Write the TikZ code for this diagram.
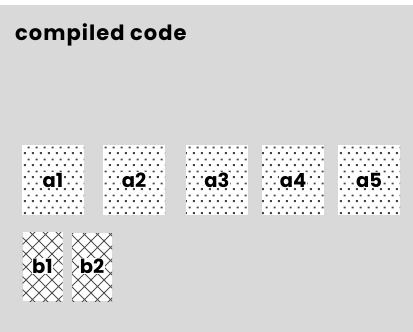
\documentclass[tikz,border=0pt]{standalone}
\usepackage{fontspec}
\setmainfont{Poppins}
\newfontfamily\titlefont[LetterSpace=5]{Poppins}
\usetikzlibrary{patterns}
\pgfdeclarepatternformonly{pdots}{\pgfpointorigin}{\pgfpoint{7.7pt}{11.6pt}}{\pgfpoint{7.7pt}{11.6pt}}{%
  \pgfpathrectangle{\pgfpoint{1pt}{2pt}}{\pgfpoint{1.9pt}{1.9pt}}%
  \pgfpathrectangle{\pgfpoint{4.85pt}{7.8pt}}{\pgfpoint{1.9pt}{1.9pt}}%
  \pgfusepath{fill}}
\pgfdeclarepatternformonly{pcross}{\pgfpoint{-1pt}{-1pt}}{\pgfpoint{14pt}{14pt}}{\pgfpoint{13pt}{13pt}}{%
  \pgfsetlinewidth{0.75pt}%
  \pgfpathmoveto{\pgfpoint{-1pt}{-1pt}}\pgfpathlineto{\pgfpoint{14pt}{14pt}}%
  \pgfpathmoveto{\pgfpoint{-1pt}{14pt}}\pgfpathlineto{\pgfpoint{14pt}{-1pt}}%
  \pgfusepath{stroke}}
\definecolor{bgray}{HTML}{D9D9D9}
\definecolor{dotc}{HTML}{454545}
\definecolor{crossc}{HTML}{505050}
\tikzset{
  abox/.style={draw=none, fill=white, postaction={pattern=pdots, pattern color=dotc}},
  bbox/.style={draw=none, fill=white, postaction={pattern=pcross, pattern color=crossc}},
  lbl/.style={fill=white, inner sep=0.6pt, text height=14pt, text depth=0pt, font=\bfseries\fontsize{19.5}{19.5}\selectfont, text=black},
  title/.style={anchor=base west, inner sep=0pt, font=\titlefont\bfseries\fontsize{21}{21}\selectfont}
}
\begin{document}
\begin{tikzpicture}[x=1pt, y=-1pt]
\useasboundingbox (0,0) rectangle (413,332);
\fill[white] (0,0) rectangle (413,332);
\fill[bgray] (0,5) rectangle (413,332);
\node[title] (t) at (15,40.5) {compiled code};
\path[abox] (22,145) rectangle (84,215);
\path[abox] (103,145) rectangle (165,215);
\path[abox] (186,145) rectangle (248,215);
\path[abox] (262,145) rectangle (324,215);
\path[abox] (338,145) rectangle (400,215);
\node[lbl] (a1) at (53,180) {a1};
\node[lbl] (a2) at (134,180) {a2};
\node[lbl] (a3) at (217,180) {a3};
\node[lbl] (a4) at (293,180) {a4};
\node[lbl] (a5) at (369,180) {a5};
\path[bbox] (22.5,232) rectangle (62.5,301);
\path[bbox] (72,233) rectangle (112,301);
\node[lbl] (b1) at (42.5,266) {b1};
\node[lbl] (b2) at (92,266) {b2};
\end{tikzpicture}
\end{document}
